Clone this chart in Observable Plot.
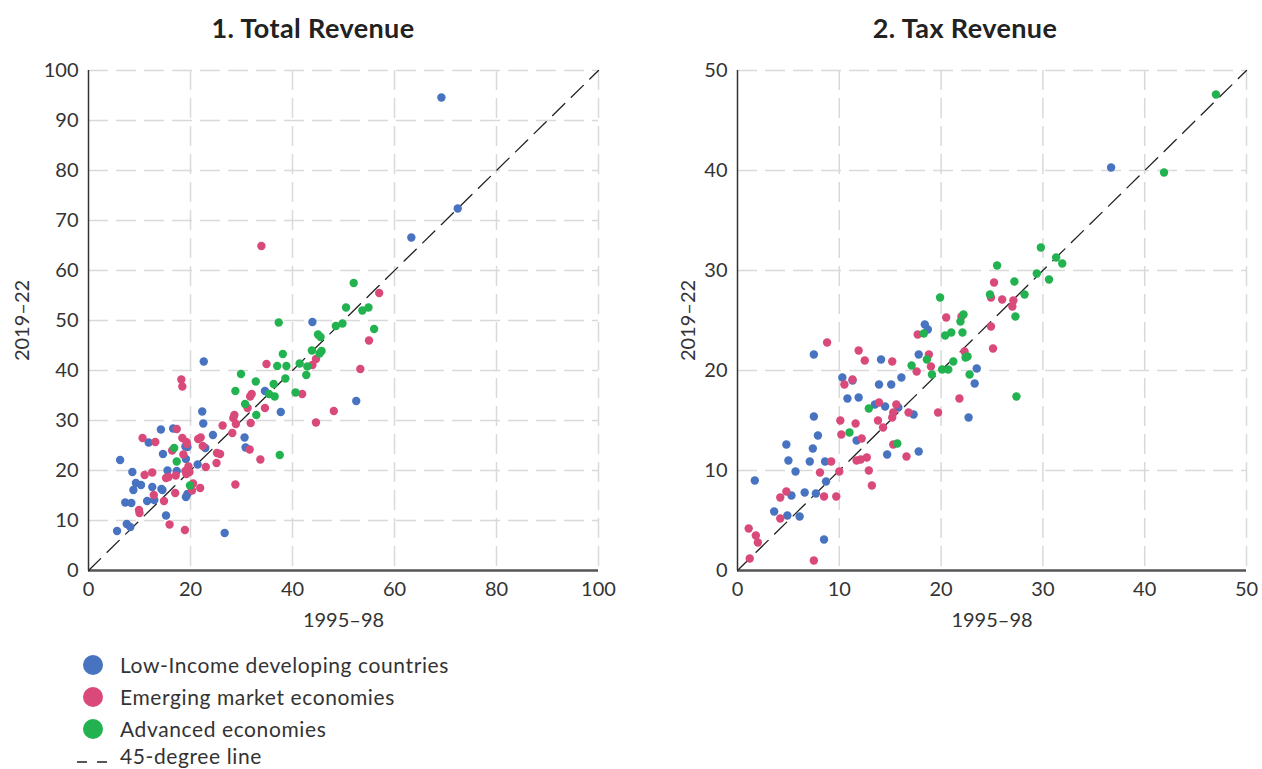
<!DOCTYPE html>
<html>
<head>
<meta charset="utf-8">
<script src="https://cdn.jsdelivr.net/npm/d3@7"></script>
<script src="https://cdn.jsdelivr.net/npm/@observablehq/plot@0.6"></script>
<style>
  html, body { margin: 0; padding: 0; background: #fff; }
  body { width: 1262px; height: 769px; position: relative; overflow: hidden; font-family: Lato, "Open Sans", sans-serif; color: #333; }
  .title { position: absolute; top: 10px; font-weight: 700; font-size: 27px; letter-spacing: 0.4px; color: #222; text-align: center; line-height: 36px; }
  .legend-row { position: absolute; left: 0; height: 28px; line-height: 28px; font-size: 21px; letter-spacing: 0.6px; color: #333; white-space: nowrap; }
  .legend-row svg { position: absolute; left: 70px; top: 0; }
  .legend-row span { position: absolute; left: 120px; top: 0; }
</style>
</head>
<body>
<script>
// Group names and colours
const groups = ["Low-Income developing countries", "Emerging market economies", "Advanced economies"];
const groupColors = ["#4773c0", "#d94a7b", "#22b24f"];
const diagonalLabel = "45-degree line";

// Axis titles and ticks
const panelTitles = ["1. Total Revenue", "2. Tax Revenue"];
const xTitle = "1995–98";
const yTitle = "2019–22";
const totalTicks = [0, 20, 40, 60, 80, 100];
const totalGridY = [10, 20, 30, 40, 50, 60, 70, 80, 90, 100];
const taxTicks = [0, 10, 20, 30, 40, 50];

// Total revenue, percent of GDP: [1995–98, 2019–22]
const totalLowIncome = [
  [22.6, 41.8], [22.3, 31.8], [22.5, 29.4], [24.4, 27.1], [30.6, 26.6], [30.8, 24.6],
  [14.2, 28.2], [16.6, 28.4], [11.8, 25.6], [22.9, 24.5], [14.6, 23.3], [19.0, 24.8],
  [19.4, 24.7], [19.1, 22.3], [6.2, 22.1], [21.4, 21.2], [17.3, 19.9], [15.5, 20.0],
  [8.6, 19.7], [9.3, 17.5], [10.3, 17.1], [8.8, 16.1], [12.5, 16.7], [14.3, 16.3],
  [14.5, 16.1], [11.5, 13.9], [12.9, 14.1], [7.2, 13.6], [8.4, 13.5], [15.2, 11.0],
  [7.5, 9.3], [8.2, 8.7], [5.6, 7.9], [26.7, 7.5], [19.4, 15.3], [19.1, 14.7],
  [63.3, 66.6], [69.2, 94.6], [72.4, 72.4], [43.9, 49.7], [34.6, 35.9], [52.5, 33.9],
  [37.7, 31.7]
];
const totalEmerging = [
  [18.2, 38.2], [18.4, 36.8], [32.0, 35.3], [31.7, 34.8], [31.2, 32.5], [28.6, 31.1],
  [28.4, 30.5], [28.9, 29.3], [26.3, 29.0], [28.2, 27.5], [31.8, 29.5], [31.6, 24.2],
  [17.3, 28.3], [10.6, 26.5], [13.1, 25.7], [18.4, 26.5], [19.2, 25.7], [19.3, 25.3],
  [21.5, 26.3], [22.0, 26.6], [22.4, 24.9], [16.4, 24.0], [18.6, 23.2], [25.2, 23.5],
  [25.8, 23.3], [23.0, 20.7], [25.1, 21.5], [19.6, 20.8], [19.8, 19.7], [19.0, 19.9],
  [19.2, 19.3], [17.1, 19.0], [15.7, 18.7], [15.2, 18.5], [11.0, 19.1], [12.5, 19.6],
  [12.8, 15.1], [14.8, 13.9], [9.9, 12.1], [10.0, 11.5], [15.9, 9.2], [18.9, 8.1],
  [17.0, 15.5], [20.5, 17.4], [20.3, 16.0], [21.9, 16.5], [28.8, 17.2], [33.7, 22.2],
  [33.9, 64.9], [57.0, 55.5], [55.0, 46.0], [44.6, 42.3], [43.9, 41.1], [34.9, 41.3],
  [53.3, 40.3], [41.9, 35.3], [34.6, 32.5], [48.1, 31.9], [44.6, 29.6]
];
const totalAdvanced = [
  [29.9, 39.3], [32.8, 37.8], [28.8, 35.9], [30.7, 33.3], [32.9, 31.1], [16.8, 24.5],
  [17.3, 21.8], [19.9, 17.0], [52.0, 57.5], [50.5, 52.6], [53.7, 52.0], [54.9, 52.6],
  [37.3, 49.6], [48.5, 48.9], [49.8, 49.4], [56.0, 48.3], [45.0, 47.2], [45.5, 46.7],
  [43.8, 44.0], [45.7, 43.9], [45.3, 43.4], [42.9, 40.8], [42.7, 39.1], [41.4, 41.4],
  [38.1, 43.3], [37.0, 40.9], [38.8, 40.9], [38.6, 38.4], [35.4, 35.3], [36.5, 34.8],
  [36.3, 37.3], [40.6, 35.6], [37.5, 23.1]
];

// Tax revenue, percent of GDP: [1995–98, 2019–22]
const taxLowIncome = [
  [7.5, 21.6], [14.1, 21.1], [10.3, 19.3], [11.3, 19.0], [13.9, 18.6], [15.1, 18.6],
  [10.8, 17.2], [11.9, 17.3], [13.5, 16.6], [14.5, 16.4], [7.5, 15.4], [11.7, 13.0],
  [14.7, 11.6], [7.9, 13.5], [4.8, 12.6], [7.4, 12.2], [5.0, 11.0], [7.1, 10.9],
  [8.6, 10.9], [5.7, 9.9], [1.7, 9.0], [8.7, 8.9], [5.3, 7.5], [6.6, 7.8],
  [7.7, 7.7], [3.6, 5.9], [4.9, 5.5], [6.1, 5.4], [8.5, 3.1], [18.4, 24.6],
  [18.7, 24.1], [17.8, 21.6], [23.5, 20.2], [23.3, 18.7], [16.1, 19.3], [15.8, 16.3],
  [17.3, 15.6], [22.7, 15.3], [17.8, 11.9], [36.7, 40.3]
];
const taxEmerging = [
  [8.8, 22.8], [11.9, 22.0], [12.5, 21.0], [15.2, 20.9], [11.3, 19.1], [10.5, 18.6],
  [13.9, 16.8], [15.6, 16.6], [10.1, 15.0], [11.6, 14.7], [10.2, 13.6], [13.8, 15.0],
  [14.3, 14.3], [15.2, 15.3], [15.3, 15.8], [12.2, 13.2], [15.3, 12.6], [9.2, 10.9],
  [8.1, 9.8], [10.0, 9.9], [11.7, 11.0], [12.1, 11.1], [12.7, 11.3], [12.9, 10.0],
  [13.2, 8.5], [4.8, 7.9], [4.2, 7.3], [8.5, 7.4], [9.7, 7.4], [4.2, 5.2],
  [1.1, 4.2], [1.8, 3.5], [2.0, 2.8], [1.2, 1.2], [7.5, 1.0], [25.2, 28.8],
  [24.9, 27.3], [26.0, 27.1], [27.1, 27.0], [27.0, 26.4], [20.5, 25.3], [22.0, 25.4],
  [17.7, 23.6], [24.9, 24.4], [25.1, 22.2], [22.3, 21.9], [18.8, 21.6], [19.0, 20.4],
  [17.6, 19.9], [21.8, 17.2], [16.8, 15.8], [19.7, 15.8], [16.6, 11.4]
];
const taxAdvanced = [
  [12.9, 16.2], [11.0, 13.8], [15.7, 12.7], [29.8, 32.3], [31.3, 31.3], [31.9, 30.7],
  [25.5, 30.5], [29.4, 29.7], [30.6, 29.1], [27.2, 28.9], [19.9, 27.3], [24.8, 27.6],
  [28.2, 27.6], [27.3, 25.4], [22.2, 25.6], [21.9, 24.9], [18.3, 23.7], [20.4, 23.5],
  [21.0, 23.8], [22.1, 23.8], [22.4, 21.3], [22.6, 21.4], [21.2, 20.9], [18.6, 21.1],
  [17.1, 20.5], [20.1, 20.1], [20.7, 20.1], [19.1, 19.6], [22.8, 19.6], [27.4, 17.4],
  [41.9, 39.8], [47.0, 47.6]
];

function scatterPanel({series, max, ticks, gridY, width, marginLeft, marginRight, yLabelOffset}) {
  const gridStyle = {stroke: "#d9d9d9", strokeOpacity: 1, strokeWidth: 1.5, strokeDasharray: "20,8"};
  const diagonal = [{x: 0, y: 0}, {x: max, y: max}];
  return Plot.plot({
    width,
    height: 585,
    marginTop: 20,
    marginBottom: 65,
    marginLeft,
    marginRight,
    x: {domain: [0, max]},
    y: {domain: [0, max]},
    style: {fontFamily: "Lato, 'Open Sans', sans-serif", fontSize: "20px", color: "#333", background: "transparent", overflow: "visible"},
    marks: [
      Plot.gridY(gridY, gridStyle),
      Plot.gridX(ticks.slice(1), gridStyle),
      Plot.axisX(ticks, {tickSize: 0, tickPadding: 11, label: xTitle, labelAnchor: "center", labelArrow: "none", labelOffset: 56}),
      Plot.axisY(gridY.concat([0]), {tickSize: 0, tickPadding: 10, label: yTitle, labelAnchor: "center", labelArrow: "none", labelOffset: yLabelOffset}),
      Plot.ruleX([0], {stroke: "#333", strokeWidth: 1.5}),
      Plot.ruleY([0], {stroke: "#555", strokeWidth: 2.5}),
      Plot.line(diagonal, {x: "x", y: "y", stroke: "#222", strokeWidth: 1.3, strokeDasharray: "17,9"}),
      ...series.map((pairs, i) =>
        Plot.dot(pairs, {x: d => d[0], y: d => d[1], r: 4.2, fill: groupColors[i], stroke: "none"})
      )
    ]
  });
}

function place(el, left, top) {
  el.style.position = "absolute";
  el.style.left = left + "px";
  el.style.top = top + "px";
  document.body.appendChild(el);
}

// Panel 1: total revenue
place(scatterPanel({
  series: [totalLowIncome, totalEmerging, totalAdvanced],
  max: 100, ticks: totalTicks, gridY: totalGridY,
  width: 630, marginLeft: 88, marginRight: 32, yLabelOffset: 74
}), 0, 50);

// Panel 2: tax revenue
place(scatterPanel({
  series: [taxLowIncome, taxEmerging, taxAdvanced],
  max: 50, ticks: taxTicks, gridY: taxTicks.slice(1),
  width: 612, marginLeft: 87, marginRight: 16, yLabelOffset: 57
}), 650, 50);

// Panel titles
[[panelTitles[0], 0, 626], [panelTitles[1], 668, 594]].forEach(([text, x, w]) => {
  const t = document.createElement("div");
  t.className = "title";
  t.textContent = text;
  t.style.left = x + "px";
  t.style.width = w + "px";
  document.body.appendChild(t);
});

// Legend
const legendRows = groups.map((g, i) => ({label: g, color: groupColors[i], kind: "dot"}))
  .concat([{label: diagonalLabel, color: "#222", kind: "line"}]);
const ns = "http://www.w3.org/2000/svg";
legendRows.forEach((row, i) => {
  const centerY = i < 3 ? 665 + i * 32 : 756;
  const div = document.createElement("div");
  div.className = "legend-row";
  div.style.top = (centerY - 14) + "px";
  div.style.width = "600px";
  const svg = document.createElementNS(ns, "svg");
  svg.setAttribute("width", 45);
  svg.setAttribute("height", 28);
  if (row.kind === "dot") {
    const c = document.createElementNS(ns, "circle");
    c.setAttribute("cx", 23);
    c.setAttribute("cy", 14);
    c.setAttribute("r", 10);
    c.setAttribute("fill", row.color);
    svg.appendChild(c);
  } else {
    const l = document.createElementNS(ns, "line");
    l.setAttribute("x1", 7);
    l.setAttribute("x2", 38);
    l.setAttribute("y1", 20);
    l.setAttribute("y2", 20);
    l.setAttribute("stroke", row.color);
    l.setAttribute("stroke-width", 1.3);
    l.setAttribute("stroke-dasharray", "10,10");
    svg.appendChild(l);
  }
  div.appendChild(svg);
  const span = document.createElement("span");
  span.textContent = row.label;
  div.appendChild(span);
  document.body.appendChild(div);
});
</script>
</body>
</html>
